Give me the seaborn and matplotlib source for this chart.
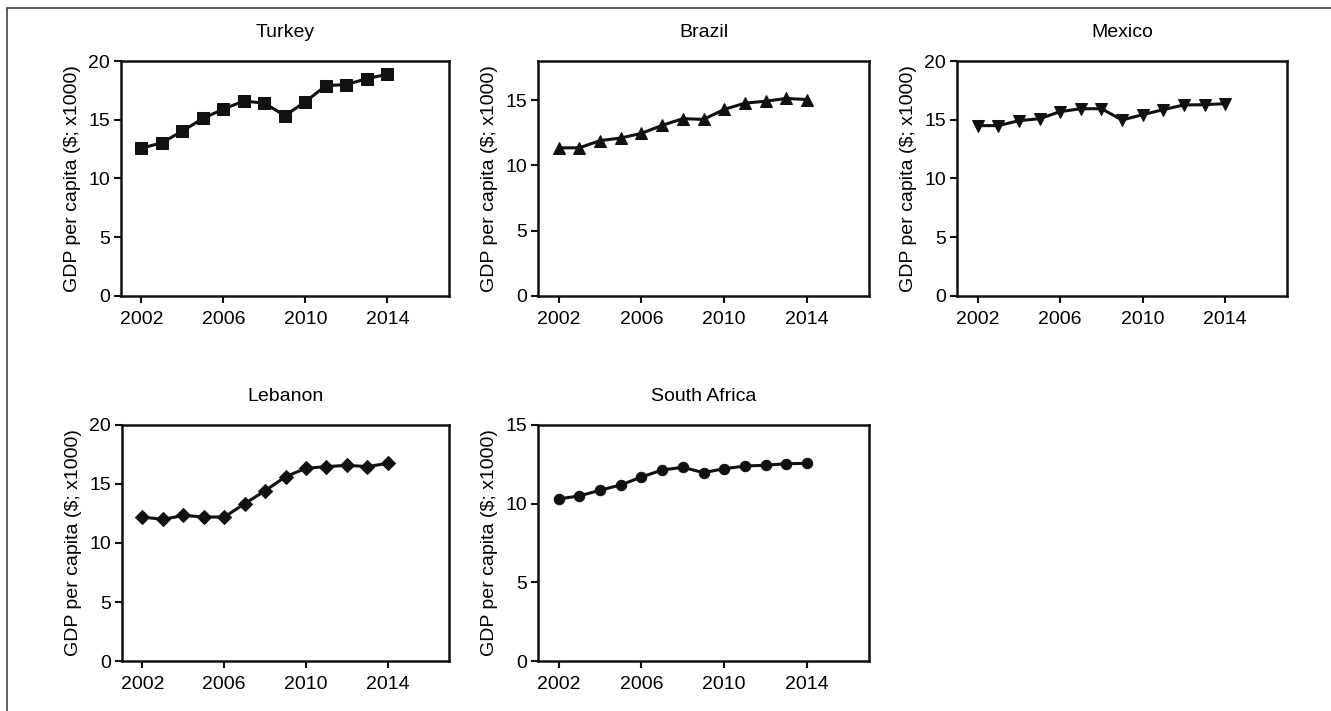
import matplotlib.pyplot as plt
import numpy as np
import pandas as pd
import seaborn as sns
from matplotlib.lines import Line2D

ANOS = list(range(2002, 2015))

TURQUIA = [12.57, 13.05, 14.04, 15.12, 15.91, 16.6, 16.4, 15.35, 16.54, 17.9, 18.0, 18.5, 18.87]
BRASIL = [11.35, 11.35, 11.9, 12.1, 12.46, 13.07, 13.58, 13.53, 14.29, 14.77, 14.92, 15.13, 15.05]
MEXICO = [14.5, 14.5, 14.92, 15.09, 15.69, 15.94, 15.94, 14.98, 15.43, 15.86, 16.26, 16.28, 16.37]
LIBANO = [12.2, 12.0, 12.34, 12.2, 12.2, 13.33, 14.43, 15.62, 16.33, 16.47, 16.58, 16.47, 16.75]
AFRICA_SUL = [10.3, 10.49, 10.85, 11.19, 11.69, 12.14, 12.31, 11.97, 12.22, 12.39, 12.44, 12.54, 12.56]

PAISES = ['Turkey', 'Brazil', 'Mexico', 'Lebanon', 'South Africa']
SERIES = [TURQUIA, BRASIL, MEXICO, LIBANO, AFRICA_SUL]
MARCADORES = ['s', '^', 'v', 'D', 'o']
TAMANHOS = [8.5, 9, 8.5, 7, 7.5]
LIMITES_Y = [20, 18, 20, 20, 15]
TICKS_X = [2002, 2006, 2010, 2014]
ROTULO_Y = 'GDP per capita ($; x1000)'

# posicoes dos eixos em fracao da figura (left, bottom, width, height)
POSICOES = [
    (0.0909, 0.5837, 0.2464, 0.3305),
    (0.4042, 0.5837, 0.2487, 0.3305),
    (0.7190, 0.5837, 0.2480, 0.3305),
    (0.0917, 0.0703, 0.2457, 0.3320),
    (0.4042, 0.0703, 0.2487, 0.3320),
]


def main():
    sns.set_style('ticks')
    plt.rcParams['font.family'] = ['Liberation Sans', 'DejaVu Sans']
    plt.rcParams['text.color'] = 'black'
    plt.rcParams['axes.labelcolor'] = 'black'
    plt.rcParams['xtick.color'] = 'black'
    plt.rcParams['ytick.color'] = 'black'

    fig = plt.figure(figsize=(13.31, 7.11), dpi=100)

    for pais, valores, marcador, tamanho, ymax, pos in zip(
        PAISES, SERIES, MARCADORES, TAMANHOS, LIMITES_Y, POSICOES
    ):
        ax = fig.add_axes(pos)
        df = pd.DataFrame({'ano': ANOS, 'gdp': valores})
        sns.lineplot(
            data=df, x='ano', y='gdp', ax=ax, color='#111111',
            marker=marcador, markersize=tamanho, markeredgecolor='#111111',
            linewidth=2.2,
        )
        ax.set_xlim(2001, 2017)
        ax.set_ylim(0, ymax)
        ax.set_xticks(TICKS_X)
        ax.set_yticks(np.arange(0, ymax + 0.1, 5))
        ax.set_xlabel('')
        ax.set_ylabel(ROTULO_Y, fontsize=14, labelpad=5)
        ax.set_title(pais, fontsize=14, pad=17)
        ax.tick_params(axis='both', direction='out', length=5, width=1.5, labelsize=14, color='#111111')
        ax.tick_params(axis='x', pad=6)
        ax.tick_params(axis='y', pad=3)
        for spine in ax.spines.values():
            spine.set_linewidth(1.8)
            spine.set_color('#111111')

    # moldura parcial (topo e esquerda)
    fig.add_artist(Line2D([0.0053, 1.0], [0.9887, 0.9887], color='#444444', lw=1.2))
    fig.add_artist(Line2D([0.0053, 0.0053], [0.0, 0.9887], color='#444444', lw=1.2))

    fig.savefig('out.png', dpi=100)
    plt.close(fig)


if __name__ == '__main__':
    main()
